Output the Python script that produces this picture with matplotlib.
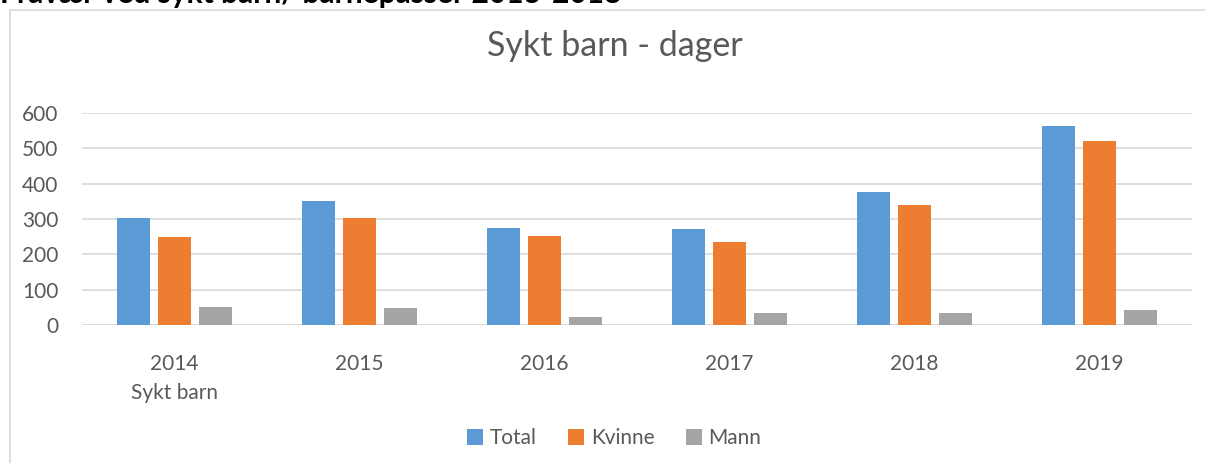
import matplotlib.pyplot as plt
from matplotlib.patches import Rectangle
import numpy as np

years = ['2014', '2015', '2016', '2017', '2018', '2019']
total = [303, 351, 275, 272, 376, 563]
kvinne = [249, 303, 252, 235, 340, 521]
mann = [51, 47, 23, 34, 34, 42]

series = [('Total', total, '#5B9BD5'),
          ('Kvinne', kvinne, '#ED7D31'),
          ('Mann', mann, '#A5A5A5')]

plt.rcParams['font.family'] = ['Lato', 'DejaVu Sans']
grey_text = '#595959'

W, H = 1205, 463
fig = plt.figure(figsize=(W / 100, H / 100), dpi=100)

# chart border (left and top edges visible)
fig.add_artist(Rectangle((10 / W, -0.1), 1.2, 1 - 10 / H + 0.1, transform=fig.transFigure,
                         fill=False, edgecolor='#D9D9D9', linewidth=1.2))

# heading above the chart, cut off at the top like in the original screenshot
fig.text(0.0, 1 - 3 / H, 'Fravær ved sykt barn/ barnepasser 2013-2018',
         fontsize=21.5, fontweight='bold', color='black', va='baseline', ha='left')

ax = fig.add_axes([82 / W, 1 - 325 / H, (1192 - 82) / W, (325 - 113) / H])

x = np.arange(len(years))
step = 0.2216
width = 0.178
for k, (name, vals, col) in enumerate(series):
    ax.bar(x + (k - 1) * step, vals, width=width, color=col, label=name, zorder=3)

ax.set_xlim(-0.5, len(years) - 0.5)
ax.set_ylim(0, 600)
ax.set_yticks(range(0, 601, 100))
ax.yaxis.grid(True, color='#D9D9D9', linewidth=1.2, zorder=0)
for s in ax.spines.values():
    s.set_visible(False)
ax.axhline(0, color='#D9D9D9', linewidth=1.2, zorder=2)
ax.tick_params(axis='both', length=0, labelsize=15, labelcolor=grey_text)
ax.tick_params(axis='y', pad=17)
ax.tick_params(axis='x', pad=21)
ax.set_xticks(x)
ax.set_xticklabels(years)

ax.text(0, -0.32, 'Sykt barn', transform=ax.get_xaxis_transform(),
        ha='center', va='center', fontsize=15, color=grey_text)

fig.text(615 / W, 1 - 46 / H, 'Sykt barn - dager', ha='center', va='center',
         fontsize=24.5, color=grey_text)

fig.legend(loc='center', bbox_to_anchor=(614 / W, 1 - 438 / H), ncol=3, frameon=False,
           fontsize=15, handlelength=0.8, handleheight=0.8, handletextpad=0.3,
           columnspacing=1.5, labelcolor=grey_text)

fig.savefig('out.png', dpi=100)
